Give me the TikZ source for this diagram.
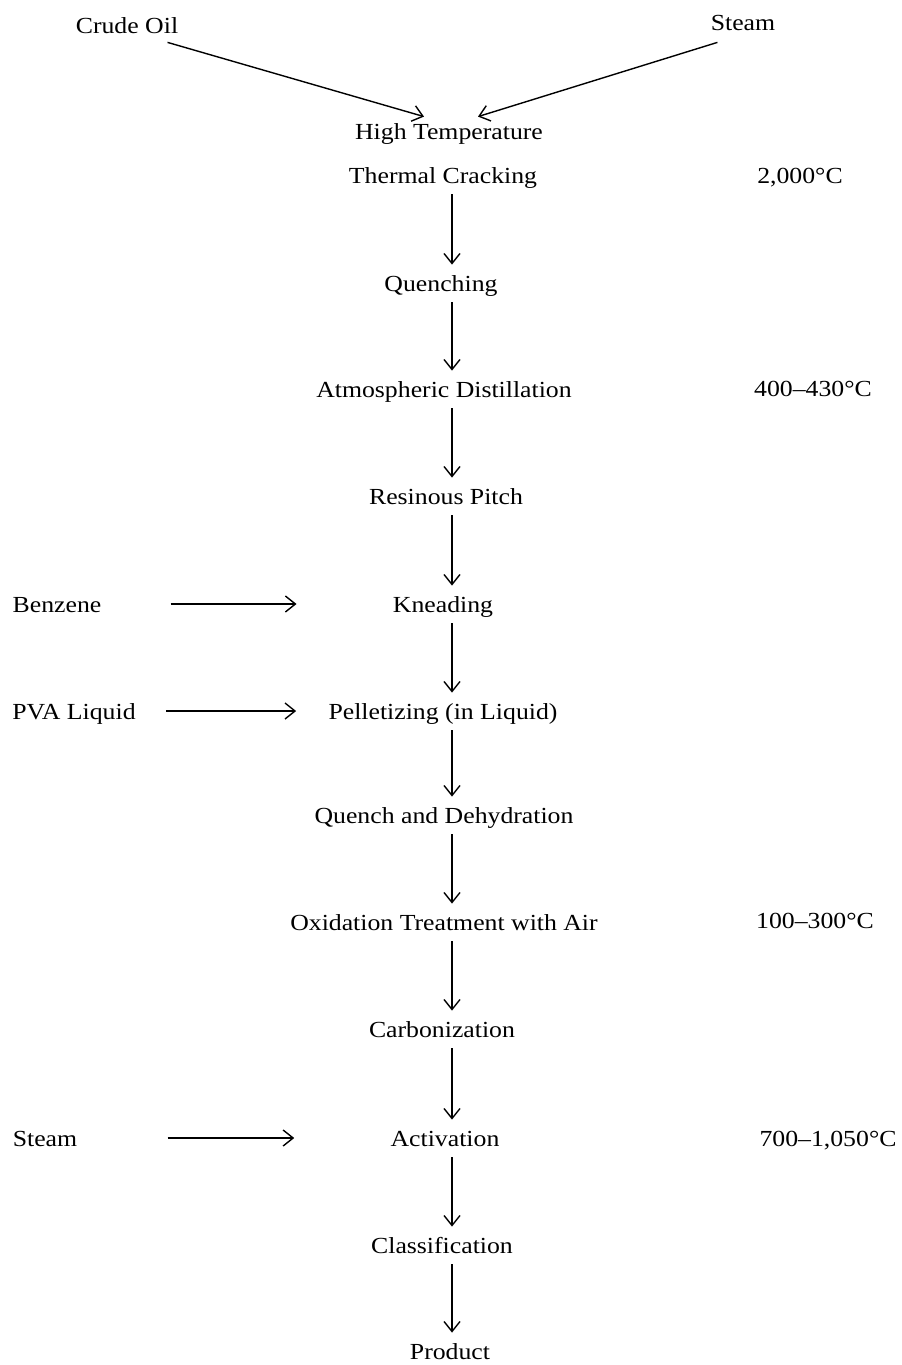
\documentclass[tikz,border=0pt]{standalone}
\usepackage{fontspec}
\setmainfont[FakeStretch=1.12]{Liberation Serif}
\usetikzlibrary{arrows.meta}
\tikzset{
  lbl/.style={inner sep=0pt, text height=8pt, text depth=0pt, font=\fontsize{11.5}{13}\selectfont},
  arr/.style={line width=0.7pt, -{Straight Barb[length=5pt,width=8pt,line width=0.7pt]}},
  varr/.style={arr, shorten <=5.5pt, shorten >=5pt}
}
\begin{document}
\begin{tikzpicture}[x=0.5pt,y=-0.5pt]
\useasboundingbox (0,0) rectangle (901,1365);
% nodes
\node[lbl] (crude) at (127,25) {Crude Oil};
\node[lbl] (steamtop) at (743,23) {Steam};
\node[lbl] (ht) at (449,131) {High Temperature};
\node[lbl] (tc) at (443,175) {Thermal Cracking};
\node[lbl] (t1) at (800,175) {2,000°C};
\node[lbl] (q) at (441,283) {Quenching};
\node[lbl] (ad) at (444,389) {Atmospheric Distillation};
\node[lbl] (t2) at (813,388) {400–430°C};
\node[lbl] (rp) at (446,496) {Resinous Pitch};
\node[lbl] (kn) at (443,604) {Kneading};
\node[lbl] (bz) at (57,604) {Benzene};
\node[lbl] (pel) at (443,711) {Pelletizing (in Liquid)};
\node[lbl] (pva) at (74,711) {PVA Liquid};
\node[lbl] (qd) at (444,815) {Quench and Dehydration};
\node[lbl] (ox) at (444,922) {Oxidation Treatment with Air};
\node[lbl] (t3) at (815,920) {100–300°C};
\node[lbl] (carb) at (442,1029) {Carbonization};
\node[lbl] (act) at (445,1138) {Activation};
\node[lbl] (st2) at (45,1138) {Steam};
\node[lbl] (t4) at (828,1138) {700–1,050°C};
\node[lbl] (cls) at (442,1245) {Classification};
\node[lbl] (prod) at (450,1351) {Product};
\coordinate (ax) at (452,0);
% top inputs
\draw[arr] ([xshift=-5.5pt,yshift=-4.5pt]crude.south east) -- ([xshift=-12.5pt,yshift=3pt]ht.north);
\draw[arr] ([xshift=3.5pt,yshift=-5.5pt]steamtop.south west) -- ([xshift=14.5pt,yshift=3pt]ht.north);
% main chain
\draw[varr] (tc.south -| ax) -- (q.north -| ax);
\draw[varr] (q.south -| ax) -- (ad.north -| ax);
\draw[varr] (ad.south -| ax) -- (rp.north -| ax);
\draw[varr] (rp.south -| ax) -- (kn.north -| ax);
\draw[varr] (kn.south -| ax) -- (pel.north -| ax);
\draw[varr] (pel.south -| ax) -- (qd.north -| ax);
\draw[varr] (qd.south -| ax) -- (ox.north -| ax);
\draw[varr] (ox.south -| ax) -- (carb.north -| ax);
\draw[varr] (carb.south -| ax) -- (act.north -| ax);
\draw[varr] (act.south -| ax) -- (cls.north -| ax);
\draw[varr] (cls.south -| ax) -- (prod.north -| ax);
% side inputs
\draw[arr, shorten <=34.5pt, shorten >=48pt] (bz.east) -- (kn.west);
\draw[arr, shorten <=15pt, shorten >=16pt] (pva.east) -- (pel.west);
\draw[arr, shorten <=45pt, shorten >=48pt] (st2.east) -- (act.west);
\end{tikzpicture}
\end{document}
